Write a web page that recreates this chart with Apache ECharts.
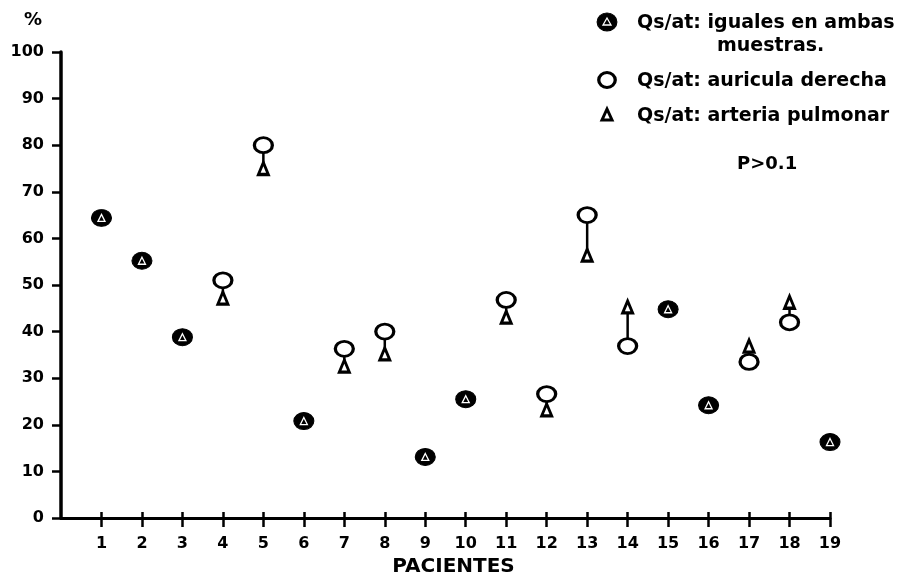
<!DOCTYPE html>
<html>
<head>
<meta charset="utf-8">
<script src="https://cdn.jsdelivr.net/npm/echarts@6/dist/echarts.min.js"></script>
<style>
html,body{margin:0;padding:0;background:#fff;}
#c{width:902px;height:573px;}
</style>
</head>
<body>
<div id="c"></div>
<script>
// Patients 1..19
var pacientes = [1,2,3,4,5,6,7,8,9,10,11,12,13,14,15,16,17,18,19];
// Qs/Qt measured in right atrium (circle)
var auriculaDerecha = [64.4, 55.2, 38.8, 51, 80, 20.8, 36.3, 40, 13.1, 25.5, 46.8, 26.6, 65, 36.9, 44.8, 24.2, 33.5, 42, 16.3];
// Qs/Qt measured in pulmonary artery (triangle)
var arteriaPulmonar = [64.4, 55.2, 38.8, 47.2, 75, 20.8, 32.6, 35.2, 13.1, 25.5, 43.1, 23.2, 56.4, 45.3, 44.8, 24.2, 36.9, 46.3, 16.3];
var yTicks = [0,10,20,30,40,50,60,70,80,90,100];

var FONT = 'DejaVu Sans';
var iguales = [], soloAuricula = [], soloArteria = [], enlaces = [];
pacientes.forEach(function (p, i) {
  var a = auriculaDerecha[i], b = arteriaPulmonar[i];
  if (a === b) {
    iguales.push([p, a]);
  } else {
    soloAuricula.push([p, a]);
    soloArteria.push([p, b]);
    enlaces.push([p, a, b]);
  }
});

var chart = echarts.init(document.getElementById('c'));
var txt = function (t, x, y, size) {
  return {
    type: 'text', x: x, y: y,
    style: { text: t, fill: '#000', fontFamily: FONT, fontWeight: 'bold', fontSize: size, align: 'left', verticalAlign: 'middle' }
  };
};
chart.setOption({
  backgroundColor: '#fff',
  animation: false,
  grid: { left: 61, right: 72, top: 52, bottom: 55, containLabel: false, outerBoundsMode: 'none' },
  xAxis: [{
    type: 'value', min: 0, max: 19, interval: 1,
    name: 'PACIENTES', nameLocation: 'middle', nameGap: 33,
    nameTextStyle: { color: '#000', fontFamily: FONT, fontWeight: 'bold', fontSize: 20, padding: [0, 0, 0, 16] },
    axisLine: { show: true, lineStyle: { color: '#000', width: 3 } },
    axisTick: { show: true, length: 9, customValues: pacientes, lineStyle: { color: '#000', width: 2.5 } },
    axisLabel: {
      margin: 18, color: '#000', fontFamily: FONT, fontWeight: 'bold', fontSize: 16,
      customValues: pacientes
    },
    splitLine: { show: false }
  }, {
    type: 'value', min: 0, max: 19, interval: 1, position: 'bottom',
    axisLine: { show: false },
    axisTick: { show: true, inside: true, length: 6, customValues: pacientes, lineStyle: { color: '#000', width: 2.5 } },
    axisLabel: { show: false },
    splitLine: { show: false }
  }],
  yAxis: {
    type: 'value', min: yTicks[0], max: yTicks[yTicks.length - 1], interval: 10,
    name: '%', nameLocation: 'end', nameGap: 32,
    nameTextStyle: { color: '#000', fontFamily: FONT, fontWeight: 'bold', fontSize: 18, align: 'right', verticalAlign: 'middle', padding: [0, 19, 0, 0] },
    axisLine: { show: true, lineStyle: { color: '#000', width: 3.5 } },
    axisTick: { show: true, length: 9, lineStyle: { color: '#000', width: 2.5 } },
    axisLabel: { margin: 17, color: '#000', fontFamily: FONT, fontWeight: 'bold', fontSize: 16 },
    splitLine: { show: false }
  },
  series: [{
    type: 'custom', name: 'enlace', z: 1,
    data: enlaces,
    renderItem: function (params, api) {
      var p1 = api.coord([api.value(0), api.value(1)]);
      var p2 = api.coord([api.value(0), api.value(2)]);
      return { type: 'line', shape: { x1: p1[0], y1: p1[1], x2: p2[0], y2: p2[1] }, style: { stroke: '#000', lineWidth: 2.5 } };
    }
  }, {
    type: 'scatter', name: 'Qs/at: auricula derecha', z: 3,
    data: soloAuricula, symbol: 'circle', symbolSize: [18, 15],
    itemStyle: { color: '#fff', borderColor: '#000', borderWidth: 3, opacity: 1 }
  }, {
    type: 'scatter', name: 'Qs/at: arteria pulmonar', z: 3,
    data: soloArteria, symbol: 'triangle', symbolSize: [10, 12],
    itemStyle: { color: '#fff', borderColor: '#000', borderWidth: 3, opacity: 1 }
  }, {
    type: 'scatter', name: 'Qs/at: iguales en ambas muestras.', z: 3,
    data: iguales, symbol: 'circle', symbolSize: [20, 17],
    itemStyle: { color: '#000', borderColor: '#000', borderWidth: 1, opacity: 1 }
  }, {
    type: 'scatter', name: 'iguales-tri', z: 4, silent: true,
    data: iguales, symbol: 'triangle', symbolSize: [7, 7],
    itemStyle: { color: '#000', borderColor: '#fff', borderWidth: 1.3, opacity: 1 }
  }],
  graphic: [
    { type: 'circle', shape: { cx: 607, cy: 22, r: 9 }, scaleX: 1.1, originX: 607, originY: 22, style: { fill: '#000', stroke: '#000', lineWidth: 1 } },
    { type: 'polygon', shape: { points: [[607, 18], [603, 25], [611, 25]] }, style: { fill: '#000', stroke: '#fff', lineWidth: 1.3 } },
    txt('Qs/at: iguales en ambas', 637, 23, 19),
    txt('muestras.', 717, 46, 19),
    { type: 'circle', shape: { cx: 607, cy: 80, r: 7.5 }, scaleX: 1.1, originX: 607, originY: 80, style: { fill: '#fff', stroke: '#000', lineWidth: 3 } },
    txt('Qs/at: auricula derecha', 637, 81, 19),
    { type: 'polygon', shape: { points: [[607, 109], [602, 120], [612, 120]] }, style: { fill: '#fff', stroke: '#000', lineWidth: 3 } },
    txt('Qs/at: arteria pulmonar', 637, 116, 19),
    txt('P>0.1', 737, 164, 18)
  ]
});
</script>
</body>
</html>
